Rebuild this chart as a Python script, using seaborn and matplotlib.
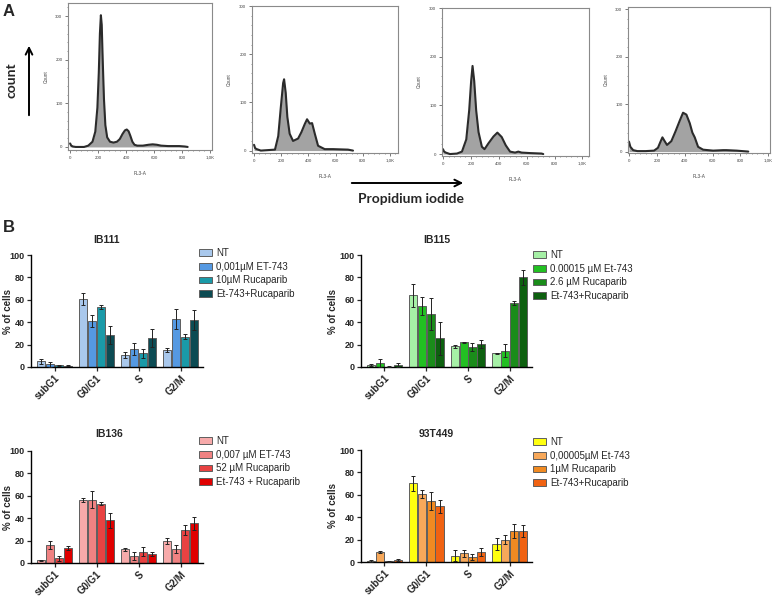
import pandas as pd
import seaborn as sns
import matplotlib.pyplot as plt
from matplotlib.patches import Patch
from matplotlib.ticker import AutoMinorLocator

# ---------------- data ----------------
# panel A: flow cytometry histograms (FL3-A channel vs count)
h1_ch = [0, 8, 20, 40, 100, 130, 160, 180, 195, 205, 213, 220, 226, 233, 242, 252, 265, 285, 310, 335,
         355, 375, 392, 405, 418, 430, 445, 460, 480, 520, 560, 590, 620, 650, 700, 780, 820, 840]
h1_cnt = [8, 3, 1, 0, 0, 3, 12, 35, 90, 170, 260, 302, 280, 200, 110, 50, 22, 12, 10, 12,
          18, 30, 38, 40, 36, 26, 12, 5, 3, 3, 5, 6, 5, 3, 2, 2, 1, 0]

h2_ch = [0, 8, 20, 50, 154, 178, 197, 214, 221, 233, 245, 262, 287, 324, 348, 373, 390, 410, 427, 447,
         471, 520, 581, 691, 728]
h2_cnt = [12, 5, 3, 0, 2, 30, 90, 140, 148, 120, 70, 35, 20, 25, 38, 55, 65, 56, 57, 35,
          10, 3, 3, 2, 0]

h3_ch = [0, 8, 20, 50, 100, 136, 167, 188, 202, 212, 224, 238, 255, 279, 298, 326, 362, 390, 421, 450,
         481, 517, 540, 564, 624, 707, 719]
h3_cnt = [10, 5, 3, 0, 1, 5, 30, 90, 150, 181, 150, 90, 45, 15, 10, 22, 36, 44, 35, 18,
          5, 3, 5, 3, 2, 1, 0]

h4_ch = [0, 10, 30, 60, 120, 180, 208, 225, 240, 256, 273, 304, 333, 364, 388, 412, 436, 455, 472, 496,
         532, 604, 676, 700, 772, 856]
h4_cnt = [21, 10, 3, 1, 1, 2, 8, 20, 30, 22, 14, 22, 42, 65, 82, 78, 60, 40, 30, 10,
          4, 2, 3, 3, 2, 0]

hist_ticks = [0, 200, 400, 600, 800, 1000]
hist_ticklabels = ['0', '200', '400', '600', '800', '1,0K']

# panel B: % of cells per cell-cycle phase (mean, error)
phases = ['subG1', 'G0/G1', 'S', 'G2/M']

ib111_labels = ['NT', '0,001µM ET-743', '10µM Rucaparib', 'Et-743+Rucaparib']
ib111_mean = [[5.0, 61.0, 10.7, 15.0], [2.4, 41.0, 16.4, 43.0], [1.5, 53.6, 12.2, 27.0], [1.2, 28.6, 26.0, 42.0]]
ib111_err = [[2.0, 5.4, 3.0, 1.8], [2.0, 5.0, 5.4, 9.2], [0.5, 2.0, 4.2, 2.1], [0.3, 7.7, 8.3, 9.0]]
ib111_colors = ['#a9c8ec', '#5599e2', '#1a9aa8', '#0c4b53']

ib115_labels = ['NT', '0.00015 µM Et-743', '2.6 µM Rucaparib', 'Et-743+Rucaparib']
ib115_mean = [[1.5, 64.0, 18.5, 12.2], [3.6, 54.5, 22.0, 14.6], [0.3, 47.6, 17.9, 56.8], [1.5, 25.6, 20.8, 80.0]]
ib115_err = [[1.0, 10.4, 1.2, 0.3], [3.8, 8.0, 0.6, 5.6], [0.2, 14.3, 3.8, 1.8], [1.8, 14.9, 3.6, 6.6]]
ib115_colors = ['#a6f0a6', '#22c022', '#1a8c1a', '#0d600f']

ib136_labels = ['NT', '0,007 µM ET-743', '52 µM Rucaparib', 'Et-743 + Rucaparib']
ib136_mean = [[2.4, 56.5, 12.2, 19.6], [16.0, 56.5, 6.2, 12.5], [4.2, 53.0, 10.1, 29.2], [13.4, 38.1, 7.7, 35.4]]
ib136_err = [[0.6, 1.8, 1.5, 3.0], [3.3, 7.5, 3.6, 3.6], [2.4, 1.5, 4.2, 4.5], [2.1, 6.9, 1.8, 5.6]]
ib136_colors = ['#f7aaaa', '#f08282', '#e84242', '#e00000']

t93_labels = ['NT', '0,00005µM Et-743', '1µM Rucaparib', 'Et-743+Rucaparib']
t93_mean = [[0.9, 70.2, 5.7, 15.8], [8.9, 60.4, 7.7, 19.9], [0.6, 54.8, 4.8, 27.7], [1.8, 49.7, 8.9, 27.7]]
t93_err = [[0.5, 6.9, 5.0, 5.3], [0.6, 3.6, 3.0, 4.2], [0.3, 8.0, 2.7, 6.5], [0.6, 6.0, 3.3, 5.0]]
t93_colors = ['#ffff10', '#f7a85a', '#f08a22', '#f06212']

# ---------------- figure ----------------
sns.set_style("ticks")
plt.rcParams['font.family'] = ['Liberation Sans', 'DejaVu Sans']

W, H = 778, 597
fig = plt.figure(figsize=(W / 100, H / 100), dpi=100)


def px_rect(left, top, right, bottom):
    return [left / W, 1 - bottom / H, (right - left) / W, (bottom - top) / H]


def fig_xy(x, y):
    return x / W, 1 - y / H


# ----- panel A -----
hists = [
    (h1_ch, h1_cnt, px_rect(68, 3, 212, 150), (-15, 1014), (-7, 330)),
    (h2_ch, h2_cnt, px_rect(252, 6, 398, 153), (-15, 1059), (-5, 300)),
    (h3_ch, h3_cnt, px_rect(442, 8, 589, 156), (-7, 1047), (-4, 300)),
    (h4_ch, h4_cnt, px_rect(628, 7, 770, 153), (-7, 1012), (-3, 305)),
]
for ch, cnt, rect, xl, yl in hists:
    ax = fig.add_axes(rect)
    ax.fill_between(ch, cnt, 0, color='#a3a3a3', lw=0)
    sns.lineplot(x=ch, y=cnt, ax=ax, color='#2b2b2b', lw=1.5, sort=False, estimator=None)
    ax.set_xlim(*xl)
    ax.set_ylim(*yl)
    ax.set_xticks(hist_ticks)
    ax.set_xticklabels(hist_ticklabels)
    ax.set_yticks([0, 100, 200, 300])
    ax.xaxis.set_minor_locator(AutoMinorLocator(5))
    ax.yaxis.set_minor_locator(AutoMinorLocator(5))
    ax.tick_params(which='major', length=2, width=0.5, labelsize=3.2, colors='#444', pad=2)
    ax.tick_params(which='minor', length=1, width=0.4, colors='#444')
    for s in ax.spines.values():
        s.set_color('#8a8a8a')
        s.set_linewidth(0.8)
    ax.set_xlabel('FL3-A', fontsize=3.4, color='#444', labelpad=8)
    ax.set_ylabel('Count', fontsize=3.4, color='#444', labelpad=5)

fig.text(*fig_xy(3, 11), 'A', fontsize=12, fontweight='bold', va='center', ha='left')
fig.text(*fig_xy(11, 80), 'count', fontsize=10, fontweight='bold', rotation=90,
         va='center', ha='center', family=['Lato', 'DejaVu Sans'])
fig.add_artist(plt.Annotation('', xy=fig_xy(29, 43), xytext=fig_xy(29, 118),
                              xycoords='figure fraction',
                              arrowprops=dict(arrowstyle='->', lw=1.4, color='black',
                                              mutation_scale=12)))
fig.add_artist(plt.Annotation('', xy=fig_xy(466, 183), xytext=fig_xy(349, 183),
                              xycoords='figure fraction',
                              arrowprops=dict(arrowstyle='->', lw=1.4, color='black',
                                              mutation_scale=12)))
fig.text(*fig_xy(411, 199), 'Propidium iodide', fontsize=10, fontweight='bold',
         va='center', ha='center', family=['Lato', 'DejaVu Sans'])

# ----- panel B -----
fig.text(*fig_xy(3, 228), 'B', fontsize=12, fontweight='bold', va='center', ha='left')

panels = [
    ('IB111', ib111_labels, ib111_mean, ib111_err, ib111_colors,
     px_rect(31, 255, 203, 367), (107, 240), (199, 248), 18),
    ('IB115', ib115_labels, ib115_mean, ib115_err, ib115_colors,
     px_rect(361, 255, 532, 367), (437, 240), (533, 250), 23),
    ('IB136', ib136_labels, ib136_mean, ib136_err, ib136_colors,
     px_rect(31, 451, 203, 563), (109, 434), (199, 436), 18),
    ('93T449', t93_labels, t93_mean, t93_err, t93_colors,
     px_rect(361, 450, 532, 562), (436, 434), (533, 437), 23),
]

for title, labels, means, errs, colors, rect, tpos, lpos, ylab_off in panels:
    rows = []
    for lab, vals in zip(labels, means):
        for ph, v in zip(phases, vals):
            rows.append({'phase': ph, 'treatment': lab, 'pct': v})
    df = pd.DataFrame(rows)

    ax = fig.add_axes(rect)
    sns.barplot(data=df, x='phase', y='pct', hue='treatment', order=phases, hue_order=labels,
                palette=colors, saturation=1, width=0.85, gap=0.08, errorbar=None,
                edgecolor='#5e5e5e', linewidth=0.7, legend=False, ax=ax)

    for cont, err in zip(ax.containers, errs):
        xs = [b.get_x() + b.get_width() / 2 for b in cont]
        ys = [b.get_height() for b in cont]
        ax.errorbar(xs, ys, yerr=err, fmt='none', ecolor='#222222', elinewidth=0.7,
                    capsize=1.6, capthick=0.7, zorder=5)

    ax.set_xlim(-0.56, 3.53)
    ax.set_ylim(0, 100)
    ax.set_yticks([0, 20, 40, 60, 80, 100])
    sns.despine(ax=ax)
    for s in ('left', 'bottom'):
        ax.spines[s].set_linewidth(1.0)
        ax.spines[s].set_color('black')
    ax.tick_params(axis='both', length=3, width=0.9, pad=1.5)
    for t in ax.get_yticklabels():
        t.set_fontsize(6.5)
        t.set_fontweight('bold')
    ax.set_xticks(range(len(phases)))
    ax.set_xticklabels(phases, rotation=45, ha='right', va='top', rotation_mode='anchor',
                       fontsize=7, fontweight='bold')
    ax.set_xlabel('')
    ax.set_ylabel('% of cells', fontsize=7, fontweight='bold')
    ax.yaxis.set_label_coords(-ylab_off / (rect[2] * W), 0.5)

    fig.text(*fig_xy(*tpos), title, fontsize=7.5, fontweight='bold', ha='center', va='center')

    handles = [Patch(facecolor=c, edgecolor='#5e5e5e', linewidth=0.7) for c in colors]
    ax.legend(handles, labels, loc='upper left', bbox_to_anchor=fig_xy(*lpos),
              bbox_transform=fig.transFigure, frameon=False, fontsize=7,
              borderpad=0, borderaxespad=0, handlelength=1.35, handleheight=0.65,
              handletextpad=0.45, labelspacing=0.38)

fig.savefig('out.png', dpi=100)
